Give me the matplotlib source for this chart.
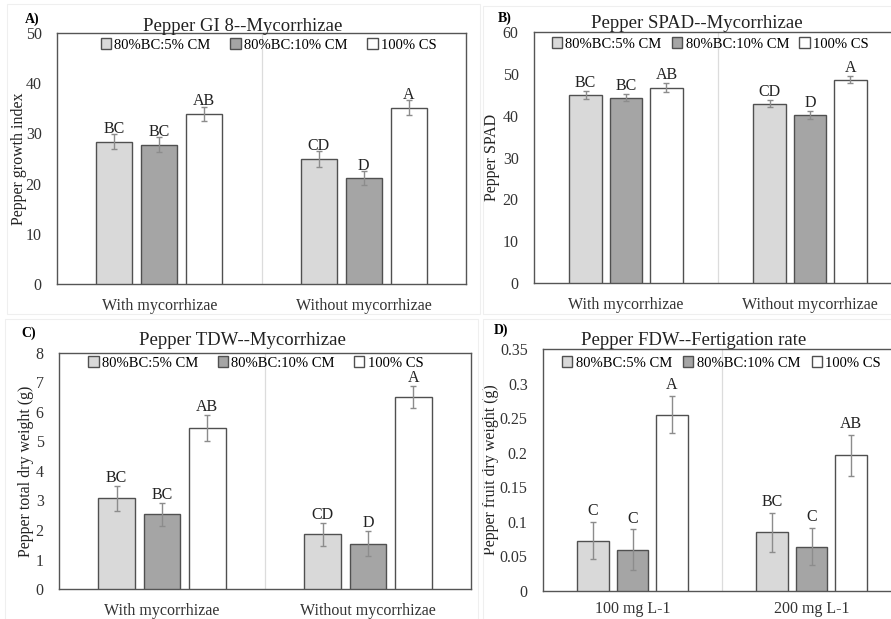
import numpy as np
import matplotlib
matplotlib.use("Agg")
import matplotlib.pyplot as plt
from matplotlib.patches import Rectangle
from matplotlib.ticker import FuncFormatter

plt.rcParams['font.family'] = ['Liberation Serif', 'DejaVu Serif']

W, H = 891, 619

treatments = ["80%BC:5% CM", "80%BC:10% CM", "100% CS"]
bar_colors = ["#d9d9d9", "#a5a5a5", "#ffffff"]

myc_groups = ["With mycorrhizae", "Without mycorrhizae"]
fert_groups = ["100 mg L-1", "200 mg L-1"]

# growth index (GI 8)
gi_mean = [[28.3, 24.9], [27.7, 21.1], [33.9, 35.1]]
gi_err = [[1.5, 1.5], [1.5, 1.4], [1.4, 1.5]]
gi_letters = [["BC", "CD"], ["BC", "D"], ["AB", "A"]]

# SPAD
spad_mean = [[44.9, 42.9], [44.3, 40.1], [46.7, 48.6]]
spad_err = [[1.0, 0.9], [0.9, 1.0], [1.1, 0.9]]
spad_letters = [["BC", "CD"], ["BC", "D"], ["AB", "A"]]

# total dry weight (g)
tdw_mean = [[3.07, 1.85], [2.53, 1.54], [5.46, 6.50]]
tdw_err = [[0.41, 0.38], [0.38, 0.41], [0.43, 0.38]]
tdw_letters = [["BC", "CD"], ["BC", "D"], ["AB", "A"]]

# fruit dry weight (g)
fdw_mean = [[0.073, 0.085], [0.060, 0.064], [0.255, 0.196]]
fdw_err = [[0.027, 0.028], [0.029, 0.027], [0.027, 0.030]]
fdw_letters = [["C", "BC"], ["C", "C"], ["A", "AB"]]


def px_axes(fig, left, top, right, bottom):
    # pixel box -> figure fraction
    return fig.add_axes([left / W, 1 - bottom / H, (right - left) / W, (bottom - top) / H])


def fig_text(fig, x, y, s, **kw):
    fig.text(x / W, 1 - y / H, s, **kw)


def draw_panel(ax, groups, means, errs, letters, ymax, ystep, ylabel,
               legend_anchor, colspace, lab_off, xpad=10):
    x = np.arange(len(groups))
    offsets = [-0.22, 0.0, 0.22]
    for i in range(3):
        ax.bar(x + offsets[i], means[i], width=0.178, color=bar_colors[i],
               edgecolor="#505050", linewidth=1.0, label=treatments[i], zorder=3)
        ax.errorbar(x + offsets[i], means[i], yerr=errs[i], fmt="none",
                    ecolor="#8c8c8c", elinewidth=1.0, capsize=2.2, capthick=1.0, zorder=4)
        for j in range(len(groups)):
            ax.annotate(letters[i][j], (x[j] + offsets[i], means[i][j] + errs[i][j]),
                        xytext=(0, lab_off), textcoords="offset points",
                        ha="center", va="baseline", fontsize=11.5, color="#222222", zorder=5)

    ax.axvline(0.5, color="#dcdcdc", linewidth=0.9, zorder=1)
    ax.set_xlim(-0.5, 1.5)
    ax.set_ylim(0, ymax)
    ax.set_yticks(np.arange(0, ymax + ystep / 2, ystep))
    ax.yaxis.set_major_formatter(FuncFormatter(lambda v, p: "%g" % round(v, 3)))
    ax.set_xticks(x)
    ax.set_xticklabels(groups, fontsize=11.5)
    ax.tick_params(axis="both", length=0, labelsize=11.5, colors="#333333")
    ax.tick_params(axis="y", pad=11)
    ax.tick_params(axis="x", pad=xpad)
    for sp in ax.spines.values():
        sp.set_color("#555555")
        sp.set_linewidth(1.0)
    ax.set_ylabel(ylabel, fontsize=11.5, color="#222222")
    ax.legend(loc="center", bbox_to_anchor=legend_anchor, ncol=3, frameon=False,
              fontsize=10.5, handlelength=0.7, handleheight=0.7, handletextpad=0.25,
              columnspacing=colspace, borderaxespad=0)


fig = plt.figure(figsize=(W / 100, H / 100), dpi=100)

# faint frames round each panel
for (l, t, r, b) in [(7, 4, 480, 314), (483, 6, 900, 314), (5, 319, 478, 625), (483, 319, 900, 625)]:
    fig.patches.append(Rectangle((l / W, 1 - b / H), (r - l) / W, (b - t) / H,
                                 transform=fig.transFigure, fill=False,
                                 edgecolor="#efefef", linewidth=0.8))

axA = px_axes(fig, 57, 33, 466, 284)
draw_panel(axA, myc_groups, gi_mean, gi_err, gi_letters, 50, 10,
           "Pepper growth index", (0.518, 0.952), 1.35, 1)
axA.yaxis.set_label_coords(-0.073, 0.5)
fig_text(fig, 243, 31, "Pepper GI 8--Mycorrhizae", fontsize=13.5, ha="center", va="baseline", color="#222222")
fig_text(fig, 25, 19, "A)", fontsize=10, fontweight="bold", ha="left", va="center")

axB = px_axes(fig, 534, 32, 902, 283)
draw_panel(axB, myc_groups, spad_mean, spad_err, spad_letters, 60, 10,
           "Pepper SPAD", (0.479, 0.952), 0.7, 3)
axB.yaxis.set_label_coords(-0.092, 0.5)
fig_text(fig, 697, 28, "Pepper SPAD--Mycorrhizae", fontsize=13.5, ha="center", va="baseline", color="#222222")
fig_text(fig, 498, 18, "B)", fontsize=10, fontweight="bold", ha="left", va="center")

axC = px_axes(fig, 59, 353, 471, 589)
draw_panel(axC, myc_groups, tdw_mean, tdw_err, tdw_letters, 8, 1,
           "Pepper total dry weight (g)", (0.478, 0.958), 1.3, 3)
axC.yaxis.set_label_coords(-0.061, 0.5)
fig_text(fig, 242, 345, "Pepper TDW--Mycorrhizae", fontsize=13.5, ha="center", va="baseline", color="#222222")
fig_text(fig, 21, 333, "C)", fontsize=10, fontweight="bold", ha="left", va="center")

axD = px_axes(fig, 543, 349, 901, 591)
draw_panel(axD, fert_groups, fdw_mean, fdw_err, fdw_letters, 0.35, 0.05,
           "Pepper fruit dry weight (g)", (0.499, 0.942), 0.75, 5, xpad=7)
axD.yaxis.set_label_coords(-0.123, 0.5)
fig_text(fig, 694, 345, "Pepper FDW--Fertigation rate", fontsize=13.5, ha="center", va="baseline", color="#222222")
fig_text(fig, 494, 330, "D)", fontsize=10, fontweight="bold", ha="left", va="center")

plt.savefig("out.png", dpi=100)
